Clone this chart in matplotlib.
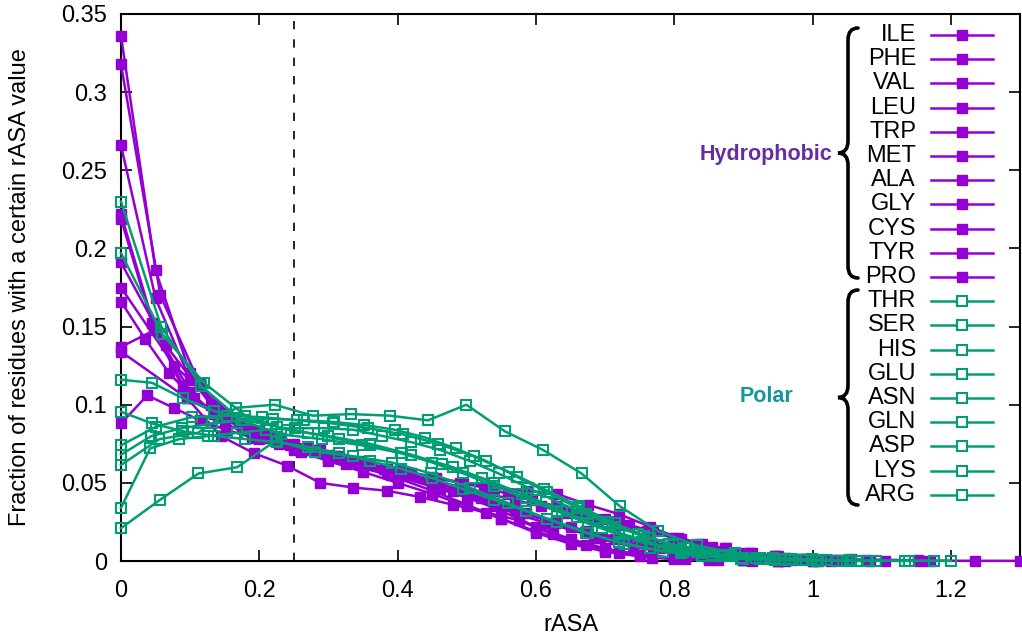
import matplotlib
matplotlib.use("Agg")
import matplotlib.pyplot as plt
from matplotlib.path import Path
from matplotlib.patches import PathPatch
import numpy as np

plt.rcParams['font.family'] = ['Liberation Sans', 'DejaVu Sans']

# bin width (in rASA) of each residue's histogram and the fraction per bin
hydro_names = ["ILE", "PHE", "VAL", "LEU", "TRP", "MET", "ALA", "GLY", "CYS", "TYR", "PRO"]
hydro_steps = [0.05, 0.048, 0.057, 0.05, 0.035, 0.045, 0.077, 0.096, 0.065, 0.038, 0.05]
ile = [0.336, 0.186, 0.120, 0.093, 0.080, 0.072, 0.066, 0.060, 0.053, 0.045, 0.036, 0.027, 0.018,
       0.011, 0.006, 0.003, 0.0015, 0.0008, 0.0004, 0.0002, 0.0001]
phe = [0.222, 0.150, 0.104, 0.080, 0.069, 0.061, 0.050, 0.047, 0.045, 0.041, 0.036, 0.031, 0.026,
       0.017, 0.010, 0.005, 0.002, 0.001, 0.0005, 0.0002, 0.0001, 0.0001]
val = [0.318, 0.170, 0.113, 0.088, 0.079, 0.071, 0.064, 0.057, 0.050, 0.042, 0.033, 0.024, 0.015,
       0.009, 0.005, 0.002, 0.001, 0.0005, 0.0002, 0.0001]
leu = [0.266, 0.168, 0.116, 0.094, 0.083, 0.075, 0.068, 0.062, 0.056, 0.049, 0.041, 0.032, 0.022,
       0.014, 0.008, 0.004, 0.002, 0.001, 0.0005, 0.0002, 0.0001]
trp = [0.166, 0.142, 0.120, 0.104, 0.093, 0.085, 0.079, 0.074, 0.070, 0.066, 0.062, 0.059, 0.056,
       0.053, 0.050, 0.047, 0.043, 0.039, 0.035, 0.031, 0.027, 0.023, 0.019, 0.015, 0.011, 0.008,
       0.005, 0.003, 0.0015, 0.0008, 0.0004]
met = [0.219, 0.152, 0.112, 0.094, 0.085, 0.078, 0.072, 0.067, 0.062, 0.058, 0.054, 0.050, 0.047,
       0.045, 0.043, 0.036, 0.030, 0.022, 0.014, 0.009, 0.005, 0.003, 0.0015, 0.0008]
ala = [0.175, 0.125, 0.094, 0.079, 0.067, 0.056, 0.046, 0.035, 0.024, 0.015, 0.009, 0.005, 0.002,
       0.001, 0.0005, 0.0002]
gly = [0.134, 0.104, 0.082, 0.071, 0.059, 0.045, 0.031, 0.019, 0.011, 0.005, 0.002, 0.001, 0.0005]
cys = [0.191, 0.138, 0.100, 0.081, 0.070, 0.062, 0.055, 0.048, 0.040, 0.031, 0.022, 0.014, 0.008,
       0.004, 0.002, 0.001, 0.0005, 0.0003, 0.0002, 0.0001, 0.0001]
tyr = [0.088, 0.106, 0.098, 0.090, 0.084, 0.079, 0.075, 0.071, 0.067, 0.063, 0.059, 0.055, 0.051,
       0.047, 0.043, 0.039, 0.035, 0.031, 0.027, 0.023, 0.019, 0.015, 0.011, 0.008, 0.005, 0.003,
       0.0015, 0.0008]
pro = [0.137, 0.148, 0.108, 0.088, 0.078, 0.071, 0.064, 0.057, 0.050, 0.043, 0.035, 0.027, 0.019,
       0.012, 0.007, 0.004, 0.002, 0.001, 0.0005, 0.0002]
hydro_values = [ile, phe, val, leu, trp, met, ala, gly, cys, tyr, pro]

polar_names = ["THR", "SER", "HIS", "GLU", "ASN", "GLN", "ASP", "LYS", "ARG"]
polar_steps = [0.058, 0.06, 0.045, 0.045, 0.051, 0.044, 0.0555, 0.042, 0.056]
thr = [0.230, 0.150, 0.112, 0.090, 0.081, 0.078, 0.074, 0.069, 0.062, 0.053, 0.043, 0.032, 0.021,
       0.012, 0.006, 0.003, 0.0015, 0.0007, 0.0003]
ser = [0.197, 0.145, 0.114, 0.093, 0.084, 0.080, 0.075, 0.068, 0.060, 0.050, 0.039, 0.028, 0.018,
       0.010, 0.005, 0.002, 0.001, 0.0005, 0.0003, 0.0002, 0.0001]
his = [0.116, 0.114, 0.104, 0.096, 0.090, 0.086, 0.082, 0.078, 0.074, 0.069, 0.063, 0.056, 0.048,
       0.040, 0.032, 0.024, 0.017, 0.011, 0.007, 0.004, 0.002, 0.001, 0.0005, 0.0002]
glu = [0.0955, 0.088, 0.083, 0.080, 0.078, 0.076, 0.073, 0.069, 0.064, 0.059, 0.053, 0.046, 0.039,
       0.032, 0.025, 0.018, 0.012, 0.008, 0.005, 0.003, 0.0015, 0.0008, 0.0004]
asn = [0.074, 0.086, 0.092, 0.093, 0.092, 0.090, 0.088, 0.085, 0.081, 0.075, 0.067, 0.057, 0.046,
       0.035, 0.024, 0.015, 0.008, 0.004, 0.002, 0.001, 0.0005]
gln = [0.068, 0.080, 0.085, 0.088, 0.090, 0.091, 0.090, 0.089, 0.087, 0.084, 0.079, 0.072, 0.064,
       0.054, 0.044, 0.034, 0.025, 0.017, 0.011, 0.006, 0.003, 0.0015, 0.0008, 0.0004, 0.0002]
asp = [0.0614, 0.078, 0.082, 0.098, 0.100, 0.093, 0.094, 0.093, 0.090, 0.100, 0.083, 0.071, 0.056,
       0.035, 0.019, 0.010, 0.005, 0.002, 0.001, 0.0005]
lys = [0.034, 0.072, 0.078, 0.080, 0.082, 0.084, 0.085, 0.085, 0.084, 0.080, 0.076, 0.071, 0.064,
       0.056, 0.047, 0.038, 0.030, 0.022, 0.016, 0.010, 0.006, 0.004, 0.002, 0.001, 0.0005, 0.0002,
       0.0001, 0.0001, 0.0001]
arg = [0.021, 0.039, 0.056, 0.060, 0.077, 0.070, 0.067, 0.063, 0.056, 0.047, 0.037, 0.027, 0.018,
       0.011, 0.006, 0.003, 0.0015, 0.0007, 0.0003, 0.0001]
polar_values = [thr, ser, his, glu, asn, gln, asp, lys, arg]

purple = "#9400D3"
green = "#009E73"

fig = plt.figure(figsize=(10.22, 6.39), dpi=100)
ax = fig.add_axes([121 / 1022, 1 - 561 / 639, 899 / 1022, 547 / 639])

for step, vals in zip(hydro_steps, hydro_values):
    x = step * np.arange(len(vals))
    ax.plot(x, vals, color=purple, lw=1.8, marker="s", ms=7.5, mec=purple, mfc=purple,
            clip_on=False, zorder=3)
for step, vals in zip(polar_steps, polar_values):
    x = step * np.arange(len(vals))
    ax.plot(x, vals, color=green, lw=1.8, marker="s", ms=7, mec=green, mfc="none",
            mew=1.5, clip_on=False, zorder=4)

ax.axvline(0.25, color="black", lw=1.2, ls=(0, (5, 6)), zorder=2)

ax.set_xlim(0, 1.3)
ax.set_ylim(0, 0.35)
ax.set_xticks([0, 0.2, 0.4, 0.6, 0.8, 1, 1.2])
ax.set_xticklabels(["0", "0.2", "0.4", "0.6", "0.8", "1", "1.2"])
ax.set_yticks([0, 0.05, 0.1, 0.15, 0.2, 0.25, 0.3, 0.35])
ax.set_yticklabels(["0", "0.05", "0.1", "0.15", "0.2", "0.25", "0.3", "0.35"])
ax.tick_params(direction="in", length=8, width=1.2, top=True, right=True, labelsize=17)
ax.tick_params(axis="x", pad=14)
ax.tick_params(axis="y", pad=10)
for s in ax.spines.values():
    s.set_linewidth(1.5)
ax.set_xlabel("rASA", fontsize=17, labelpad=8)
ax.set_ylabel("Fraction of residues with a certain rASA value", fontsize=17, labelpad=22)


# legend drawn by hand, gnuplot style: right-aligned names, then a sample
def fx(px):
    return px / 1022


def fy(py):
    return 1 - py / 639


names = hydro_names + polar_names
for i, name in enumerate(names):
    row_y = 35 + i * 24.2
    col = purple if i < len(hydro_names) else green
    fig.text(fx(916), fy(row_y), name, ha="right", va="center", fontsize=17)
    fig.add_artist(plt.Line2D([fx(931), fx(993)], [fy(row_y), fy(row_y)], color=col, lw=1.8,
                              transform=fig.transFigure))
    if i < len(hydro_names):
        fig.add_artist(plt.Line2D([fx(962)], [fy(row_y)], color=col, marker="s", ms=7.5,
                                  transform=fig.transFigure))
    else:
        fig.add_artist(plt.Line2D([fx(962)], [fy(row_y)], color=col, marker="s", ms=7, mfc="white",
                                  mew=1.5, transform=fig.transFigure))


def brace(x_tip, y_top, y_bot, w):
    xm = x_tip + w * 0.5
    xr = x_tip + w
    ym = (y_top + y_bot) / 2
    r = 12
    pts = [(xr, y_top), (xm, y_top), (xm, y_top + r), (xm, ym - r), (xm, ym), (x_tip, ym),
           (xm, ym), (xm, ym + r), (xm, y_bot - r), (xm, y_bot), (xr, y_bot)]
    codes = [Path.MOVETO, Path.CURVE3, Path.CURVE3, Path.LINETO, Path.CURVE3, Path.CURVE3,
             Path.CURVE3, Path.CURVE3, Path.LINETO, Path.CURVE3, Path.CURVE3]
    verts = [(fx(a), fy(b)) for a, b in pts]
    fig.add_artist(PathPatch(Path(verts, codes), fill=False, lw=2.6, color="black",
                             capstyle="round", transform=fig.transFigure))


brace(838, 28, 278, 20)
brace(838, 290, 505, 20)

fig.text(fx(832), fy(155), "Hydrophobic", ha="right", va="center", fontsize=15.5,
         fontweight="bold", color="#662d9f")
fig.text(fx(766), fy(397), "Polar", ha="center", va="center", fontsize=15.5,
         fontweight="bold", color="#14979b")

fig.savefig("out.png", dpi=100)
